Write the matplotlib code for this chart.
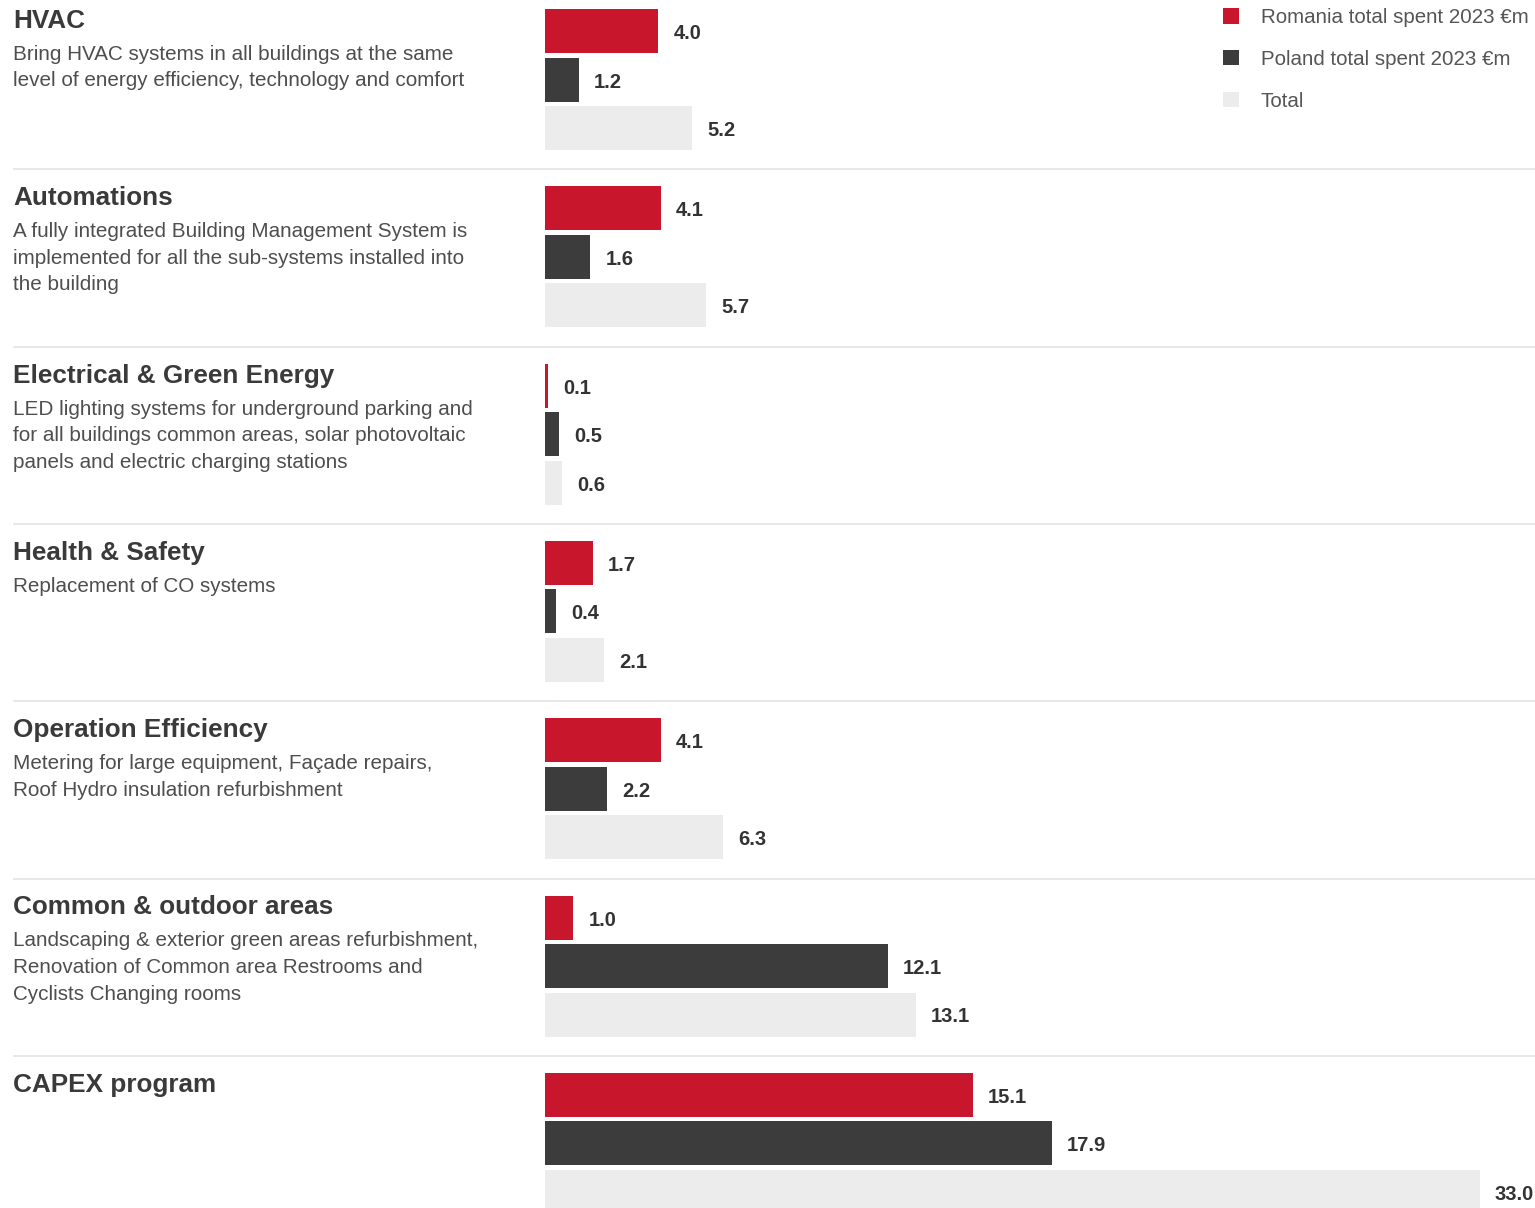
import matplotlib
matplotlib.use('Agg')
import matplotlib.pyplot as plt
from matplotlib.patches import Patch

plt.rcParams['font.family'] = ['Liberation Sans', 'DejaVu Sans']

categories = ["HVAC", "Automations", "Electrical & Green Energy", "Health & Safety",
              "Operation Efficiency", "Common & outdoor areas", "CAPEX program"]
descriptions = [
    ["Bring HVAC systems in all buildings at the same",
     "level of energy efficiency, technology and comfort"],
    ["A fully integrated Building Management System is",
     "implemented for all the sub-systems installed into",
     "the building"],
    ["LED lighting systems for underground parking and",
     "for all buildings common areas, solar photovoltaic",
     "panels and electric charging stations"],
    ["Replacement of CO systems"],
    ["Metering for large equipment, Façade repairs,",
     "Roof Hydro insulation refurbishment"],
    ["Landscaping & exterior green areas refurbishment,",
     "Renovation of Common area Restrooms and",
     "Cyclists Changing rooms"],
    [],
]
romania = [4.0, 4.1, 0.1, 1.7, 4.1, 1.0, 15.1]
poland = [1.2, 1.6, 0.5, 0.4, 2.2, 12.1, 17.9]
total = [5.2, 5.7, 0.6, 2.1, 6.3, 13.1, 33.0]
series_names = ["Romania total spent 2023 €m", "Poland total spent 2023 €m", "Total"]

colors = ['#c8172c', '#3c3c3c', '#ececec']
W, H = 1535, 1208
first_top = 9
pitch = 177.3
bar_h = 44
bar_step = 48.5
px_per_unit = 28.33
bar_left = 545

fig = plt.figure(figsize=(W / 100, H / 100), dpi=100)
fig.patch.set_facecolor('white')

# layout axes in pixel coordinates
axL = fig.add_axes([0, 0, 1, 1])
axL.set_xlim(0, W)
axL.set_ylim(H, 0)
axL.axis('off')

# bar axes
ax = fig.add_axes([bar_left / W, 0, (W - bar_left) / W, 1])
ax.set_xlim(0, (W - bar_left) / px_per_unit)
ax.set_ylim(H, 0)
ax.axis('off')

gap = 15 / px_per_unit
handles = []
for s, (vals, col) in enumerate(zip([romania, poland, total], colors)):
    ys = [first_top + i * pitch + s * bar_step + bar_h / 2 for i in range(len(vals))]
    ax.barh(ys, vals, height=bar_h, color=col, linewidth=0)
    handles.append(Patch(facecolor=col, edgecolor='none'))
    for y, v in zip(ys, vals):
        ax.text(v + gap, y + 2.5, f"{v:.1f}", va='center', ha='left',
                fontsize=14.5, fontweight='bold', color='#333333', clip_on=False)

for i, (cat, desc) in enumerate(zip(categories, descriptions)):
    top = first_top + i * pitch
    axL.text(13, top + 19, cat, fontsize=18.8, fontweight='bold', color='#3a3a3a',
             va='baseline', ha='left')
    for j, line in enumerate(desc):
        axL.text(13, top + 51 + j * 26.5, line, fontsize=14.9, color='#4e4e4e',
                 va='baseline', ha='left')
    if i > 0:
        axL.hlines(top - 17, 13, W, color='#e6e6e6', linewidth=1.3)

leg = axL.legend(handles, series_names, loc='upper left',
                 bbox_to_anchor=(1223 / W, 1 - 8 / H), bbox_transform=fig.transFigure,
                 frameon=False, fontsize=14.8, handlelength=0.78, handleheight=0.78,
                 handletextpad=1.05, labelspacing=1.11, borderpad=0, borderaxespad=0)
for t in leg.get_texts():
    t.set_color('#555555')

fig.savefig('out.png', dpi=100, facecolor='white')
